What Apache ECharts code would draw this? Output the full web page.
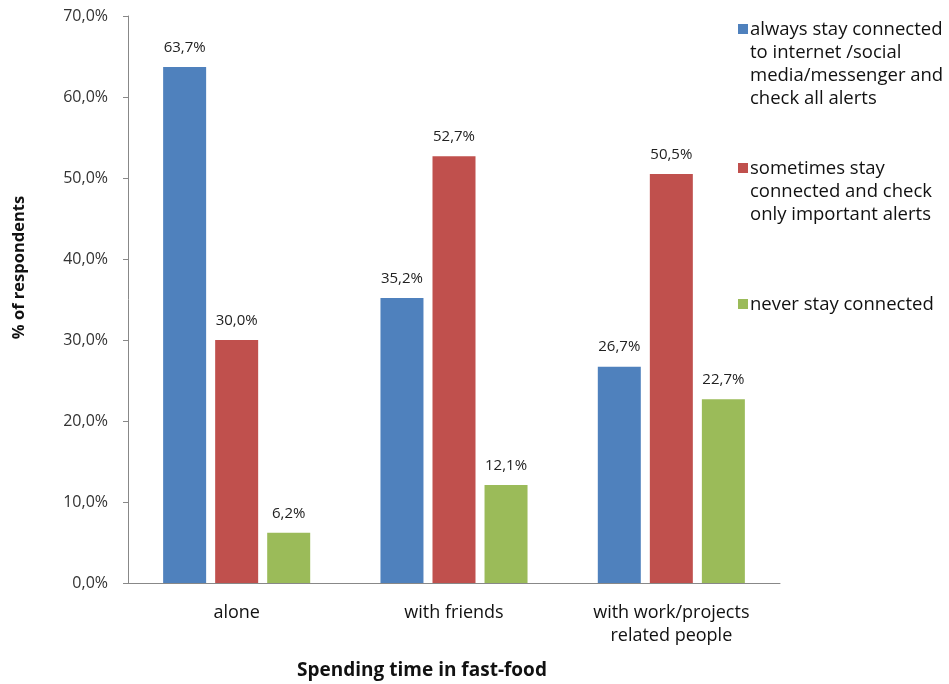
<!DOCTYPE html>
<html><head><meta charset="utf-8">
<script src="https://cdn.jsdelivr.net/npm/echarts@6/dist/echarts.min.js"></script>
<style>html,body{margin:0;padding:0;background:#fff}#c{width:949px;height:684px}</style>
</head><body><div id="c"></div>
<script>
var categories = ['alone', 'with friends', 'with work/projects\nrelated people'];
var seriesNames = [
  'always stay connected\nto internet /social\nmedia/messenger and\ncheck all alerts',
  'sometimes stay\nconnected and check\nonly important alerts',
  'never stay connected'
];
var alwaysValues = [63.7, 35.2, 26.7];
var sometimesValues = [30.0, 52.7, 50.5];
var neverValues = [6.2, 12.1, 22.7];
var yTicks = [0, 10, 20, 30, 40, 50, 60, 70];

var colors = ['#4F81BD', '#C0504D', '#9BBB59'];
var FONT = 'Open Sans';
function fmt(v){ return v.toFixed(1).replace('.', ',') + '%'; }
function mkSeries(name, data, color){
  return {
    type: 'bar', name: name, data: data, barWidth: 43, barGap: '21%',
    itemStyle: {color: color},
    label: {show: true, position: 'top', distance: 12, color: '#222', fontFamily: FONT, fontSize: 15,
      formatter: function(p){ return fmt(p.value); }}
  };
}
function iconPath(h){
  return 'path://M0,6h10v10h-10z M0,0h0.01v0.01h-0.01z M0,' + h + 'h0.01v0.01h-0.01z';
}
function mkLegend(i, top, h){
  return {
    data: [seriesNames[i]], left: 733, top: top, orient: 'vertical',
    itemWidth: 10, itemHeight: h, itemGap: 0, icon: iconPath(h),
    textStyle: {fontFamily: FONT, fontSize: 18.5, color: '#111', lineHeight: 23, padding: [0,0,0,-3]},
    selectedMode: false
  };
}
var chart = echarts.init(document.getElementById('c'));
chart.setOption({
  animation: false,
  color: colors,
  grid: {left: 128, right: 169, top: 16, bottom: 101, containLabel: false, outerBoundsMode: 'none'},
  legend: [mkLegend(0, 13, 92), mkLegend(1, 152, 69), mkLegend(2, 288, 23)],
  xAxis: {
    type: 'category', data: categories,
    axisLine: {lineStyle: {color: '#888'}},
    axisTick: {show: false},
    axisLabel: {color: '#111', fontFamily: FONT, fontSize: 18, margin: 18, lineHeight: 23, interval: 0},
    name: 'Spending time in fast-food', nameLocation: 'middle', nameGap: 78,
    nameTextStyle: {fontFamily: FONT, fontSize: 19, fontWeight: 'bold', color: '#111', padding: [0, 64, 0, 0]}
  },
  yAxis: {
    type: 'value', min: yTicks[0], max: yTicks[yTicks.length-1], interval: 10,
    splitLine: {show: false},
    axisLine: {show: true, lineStyle: {color: '#888'}},
    axisTick: {show: true, length: 5, lineStyle: {color: '#888'}},
    axisLabel: {color: '#333', fontFamily: FONT, fontSize: 16, margin: 20, formatter: function(v){ return fmt(v); }},
    name: '% of respondents', nameLocation: 'middle', nameGap: 100,
    nameTextStyle: {fontFamily: FONT, fontSize: 16.5, fontWeight: 'bold', color: '#111', padding: [0, 0, 0, 64]}
  },
  series: [
    mkSeries(seriesNames[0], alwaysValues, colors[0]),
    mkSeries(seriesNames[1], sometimesValues, colors[1]),
    mkSeries(seriesNames[2], neverValues, colors[2])
  ]
});
</script></body></html>
